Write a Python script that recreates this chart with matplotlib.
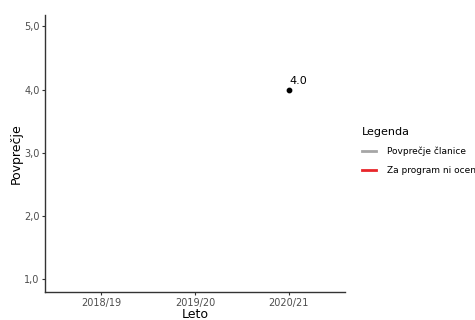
import matplotlib.pyplot as plt
from matplotlib.lines import Line2D
from matplotlib.ticker import FuncFormatter

# podatki
leta = ['2018/19', '2019/20', '2020/21']
povprecje = [None, None, 4.0]
yticks = [1.0, 2.0, 3.0, 4.0, 5.0]
legenda = ['Povprečje članice', 'Za program ni ocene']
barve = ['#a6a6a6', '#e8262a']

fig = plt.figure(figsize=(4.75, 3.2), dpi=100)
ax = fig.add_axes([0.095, 0.0875, 0.631, 0.866])

x = [i for i, v in enumerate(povprecje) if v is not None]
y = [v for v in povprecje if v is not None]
ax.scatter(x, y, s=10, color='black', zorder=3)
for xi, yi in zip(x, y):
    ax.annotate(f'{yi:.1f}', (xi, yi), xytext=(0.5, 2.5), textcoords='offset points',
                fontsize=8, ha='left', va='bottom')

ax.set_xlim(-0.6, 2.6)
ax.set_ylim(0.8, 5.18)
ax.set_xticks(range(len(leta)))
ax.set_xticklabels(leta)
ax.set_yticks(yticks)
ax.yaxis.set_major_formatter(FuncFormatter(lambda v, p: f'{v:.1f}'.replace('.', ',')))

for s in ['top', 'right']:
    ax.spines[s].set_visible(False)
for s in ['left', 'bottom']:
    ax.spines[s].set_color('#333333')
    ax.spines[s].set_linewidth(1.0)
ax.tick_params(colors='#333333', labelcolor='#4d4d4d', labelsize=7, length=2.5,
               width=0.8, pad=1.5)

ax.set_xlabel('Leto', fontsize=9, labelpad=0)
ax.set_ylabel('Povprečje', fontsize=9, labelpad=1)

handles = [Line2D([], [], color=c, lw=2) for c in barve]
fig.legend(handles, legenda, title='Legenda', loc='upper left',
           bbox_to_anchor=(0.745, 0.63), frameon=False, fontsize=6.5,
           title_fontsize=8, handlelength=1.5, alignment='left',
           labelspacing=1.1, handletextpad=1.3)

fig.savefig('out.png', dpi=100)
